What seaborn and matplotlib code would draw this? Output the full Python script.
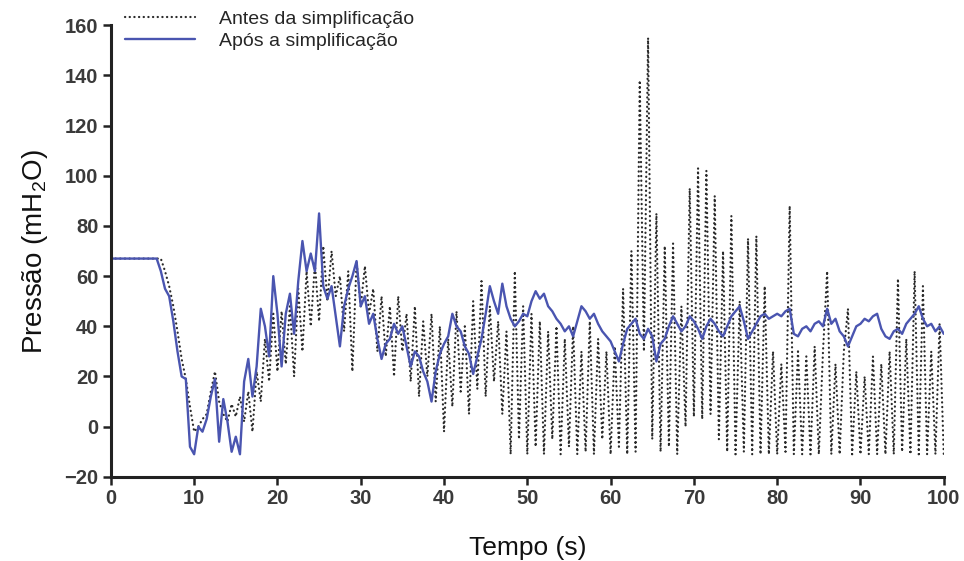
import numpy as np
import pandas as pd
import matplotlib
matplotlib.use("Agg")
import matplotlib.pyplot as plt
import seaborn as sns

# ---- data ----
label_antes = "Antes da simplificação"
label_apos = "Após a simplificação"
x_ticks = [0, 10, 20, 30, 40, 50, 60, 70, 80, 90, 100]
y_ticks = [-20, 0, 20, 40, 60, 80, 100, 120, 140, 160]

# sampling grid of both recordings: every 0.5 s from 0 to 100 s
tempo = np.arange(0, 100.25, 0.5)

antes = [
    67, 67, 67, 67, 67, 67, 67, 67, 67, 67, 67, 67, 67,          # 0 - 6
    62, 56, 48, 38, 27, 19, 8, -2, 0, 3, 5, 14, 22, 10, 5, 2,     # 6.5 - 14
    9, 4, 12, 2, 14, -2, 22, 10, 35, 18, 45, 22, 46, 25, 48, 20,  # 14.5 - 22
    55, 30, 62, 40, 65, 42, 72, 50, 70, 52, 60, 38, 62, 22, 66, 48,  # 22.5 - 30
    64, 45, 55, 30, 52, 28, 48, 20, 52, 30, 45, 18, 48, 12, 42, 20,  # 30.5 - 38
    45, 10, 40, -2, 35, 8, 46, 14, 40, 5, 50, 15, 58, 12, 48, 18,    # 38.5 - 46
    42, 5, 38, -11, 62, -5, 48, -11, 45, -8, 42, -11, 38, -5, 40, -11,  # 46.5 - 54
    35, -8, 40, -11, 30, -10, 42, -11, 35, -5, 30, -11, 32, -8, 55, -11,  # 54.5 - 62
    70, -10, 138, 30, 155, -5, 85, -10, 72, -8, 73, -11, 48, 0, 95, 4,   # 62.5 - 70
    103, 3, 102, 5, 92, -5, 70, -10, 84, -11, 50, -10, 75, -11, 76, -11,  # 70.5 - 78
    56, -11, 30, -11, 25, -10, 88, -11, 30, -11, 28, -11, 32, -11, 30, 62,  # 78.5 - 86
    -11, 25, -11, 30, 47, -11, 22, -11, 20, -11, 28, -11, 25, -11, 30, -11,  # 86.5 - 94
    59, -10, 35, -11, 62, -11, 56, -11, 30, -11, 41, -11,  # 94.5 - 100
]

apos = [
    67, 67, 67, 67, 67, 67, 67, 67, 67, 67, 67, 67,              # 0 - 5.5
    62, 55, 52, 42, 30, 20, 19, -8, -11, 0, -2, 3, 12, 19, -6, 11,  # 6 - 13.5
    2, -10, -4, -11, 18, 27, 12, 24, 47, 40, 28, 60, 45, 24, 45, 53,  # 14 - 21.5
    37, 58, 74, 62, 69, 62, 85, 56, 51, 56, 44, 32, 48, 55, 60, 66,   # 22 - 29.5
    48, 52, 41, 45, 35, 27, 33, 35, 41, 37, 40, 32, 24, 30, 28, 22,   # 30 - 37.5
    18, 10, 22, 29, 33, 36, 45, 40, 38, 32, 29, 21, 28, 35, 45, 56,   # 38 - 45.5
    50, 45, 57, 48, 43, 40, 42, 45, 44, 50, 54, 51, 53, 48, 46, 43,   # 46 - 53.5
    41, 38, 40, 36, 42, 48, 46, 43, 45, 41, 38, 36, 34, 30, 26, 33,   # 54 - 61.5
    39, 41, 43, 37, 35, 39, 36, 26, 33, 35, 40, 44, 41, 38, 40, 44,   # 62 - 69.5
    42, 39, 35, 40, 43, 41, 38, 36, 40, 44, 46, 48, 42, 35, 38, 41,   # 70 - 77.5
    44, 45, 43, 44, 45, 44, 46, 47, 37, 36, 39, 40, 38, 41, 42, 40,   # 78 - 85.5
    47, 41, 43, 38, 36, 32, 36, 40, 41, 43, 42, 44, 45, 39, 36, 35,   # 86 - 93.5
    38, 39, 37, 41, 43, 45, 48, 43, 40, 41, 38, 40, 37,               # 94 - 100
]

df_antes = pd.DataFrame({"Tempo": tempo, "Pressao": antes})
df_apos = pd.DataFrame({"Tempo": tempo, "Pressao": apos})

# ---- style ----
sns.set_style("ticks")
plt.rcParams["font.family"] = ["Liberation Sans", "DejaVu Sans"]
plt.rcParams["mathtext.fontset"] = "custom"
plt.rcParams["mathtext.rm"] = "Liberation Sans"
plt.rcParams["mathtext.it"] = "Liberation Sans:italic"

fig = plt.figure(figsize=(9.64, 5.61), dpi=100)
ax = fig.add_axes([0.115, 0.150, 0.864, 0.805])

sns.lineplot(data=df_antes, x="Tempo", y="Pressao", ax=ax, color="#2a2a2a",
             linestyle=(0, (0.1, 2.0)), linewidth=1.6, label=label_antes,
             dash_capstyle="round")
sns.lineplot(data=df_apos, x="Tempo", y="Pressao", ax=ax, color="#4a55b0",
             linewidth=1.7, label=label_apos)

ax.set_xlim(0, 100)
ax.set_ylim(-20, 160)
ax.set_xticks(x_ticks)
ax.set_yticks(y_ticks)
ax.set_xticklabels([str(v) for v in x_ticks], fontweight="bold", fontsize=14.5, color="#3a3a3a")
ax.set_yticklabels(["\u221220" if v < 0 else str(v) for v in y_ticks],
                   fontweight="bold", fontsize=14.5, color="#3a3a3a")
ax.tick_params(axis="both", direction="out", length=6, width=1.8, color="#222222", pad=3)
for side in ["left", "bottom"]:
    ax.spines[side].set_linewidth(2.2)
    ax.spines[side].set_color("#222222")
sns.despine(ax=ax)

ax.set_xlabel("Tempo (s)", fontsize=19, labelpad=20, color="#111111")
ax.set_ylabel("Pressão (mH$_\\mathrm{2}$O)", fontsize=20, labelpad=10, color="#111111")

leg = ax.legend(loc="upper left", bbox_to_anchor=(0.122, 0.995),
                bbox_transform=fig.transFigure, frameon=False, fontsize=14,
                handlelength=3.6, handletextpad=1.2, labelspacing=0.2,
                borderaxespad=0.0)

fig.savefig("out.png", dpi=100)
